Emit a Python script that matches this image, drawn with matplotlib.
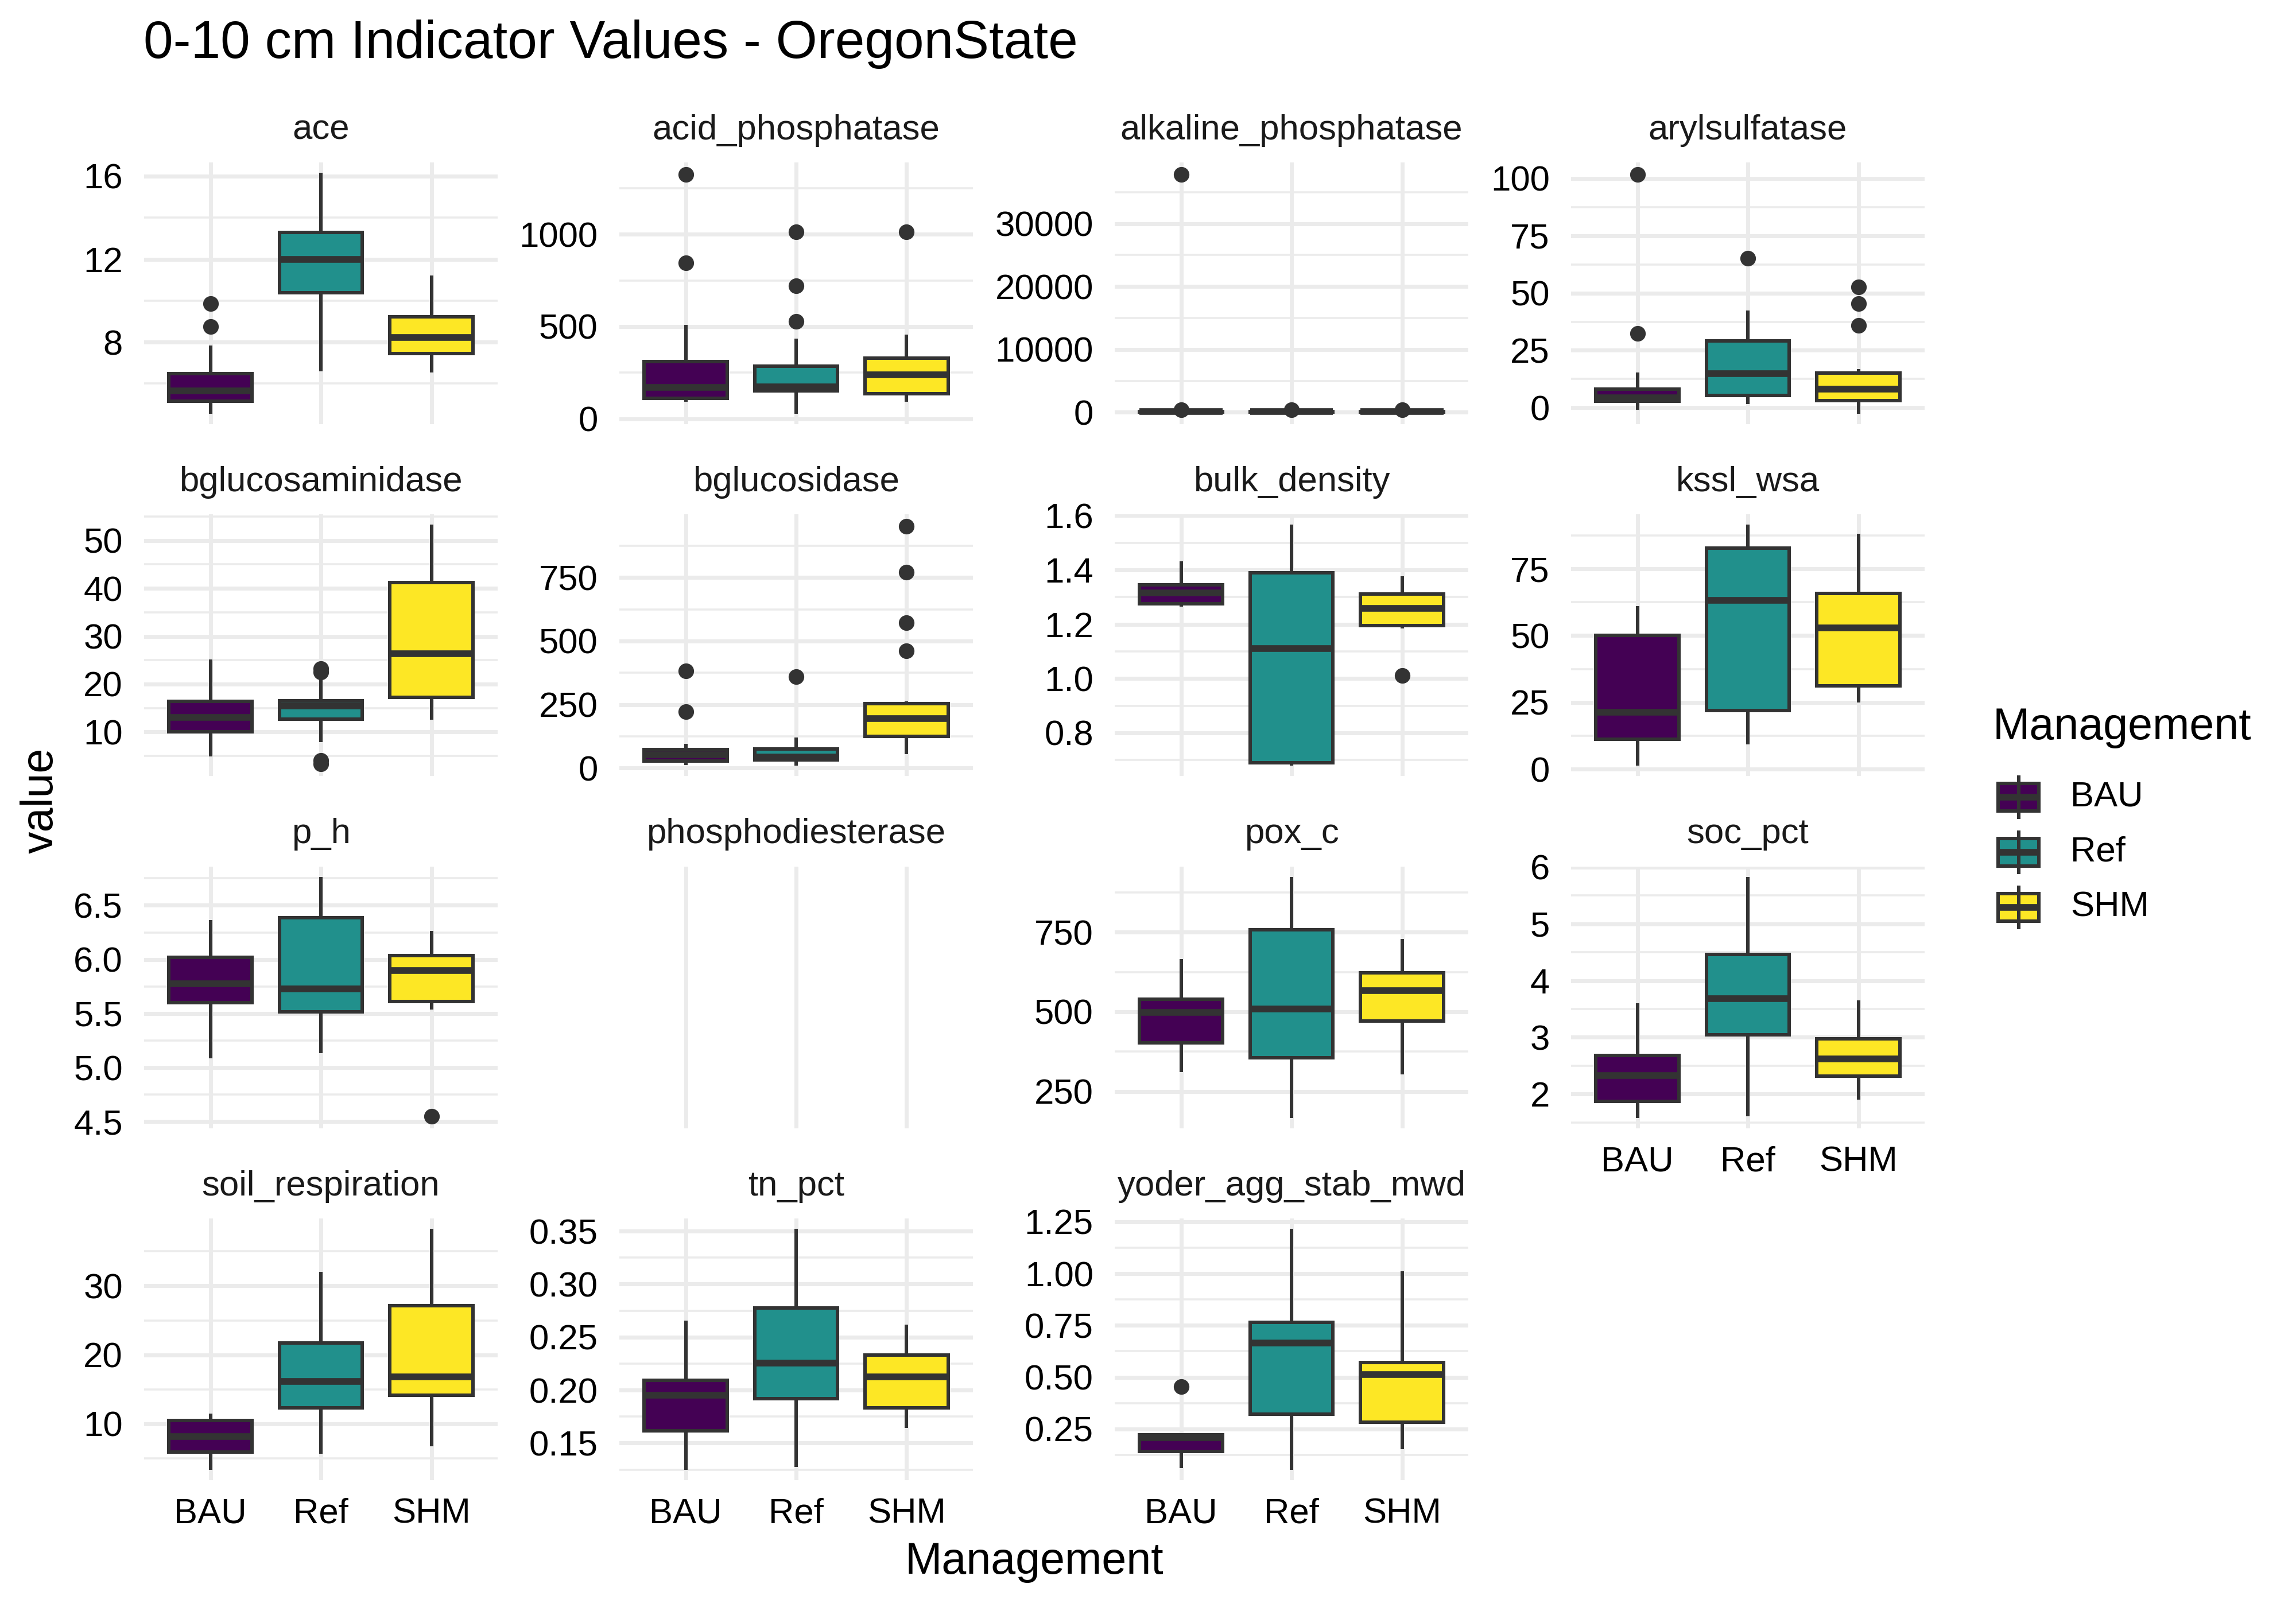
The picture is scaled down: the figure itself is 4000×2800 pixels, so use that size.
import matplotlib
matplotlib.use("Agg")
import matplotlib.pyplot as plt
from matplotlib.patches import Rectangle
from matplotlib.ticker import MultipleLocator, AutoMinorLocator, FuncFormatter

plt.rcParams['font.family'] = ['Liberation Sans', 'DejaVu Sans']

# Facets and groups
panels = ["ace", "acid_phosphatase", "alkaline_phosphatase", "arylsulfatase",
          "bglucosaminidase", "bglucosidase", "bulk_density", "kssl_wsa",
          "p_h", "phosphodiesterase", "pox_c", "soc_pct",
          "soil_respiration", "tn_pct", "yoder_agg_stab_mwd"]
groups = ["BAU", "Ref", "SHM"]
group_colors = ["#440154", "#21908C", "#FDE725"]

# Box statistics, order BAU, Ref, SHM
whisker_low = {
    "ace": [4.62, 6.67, 6.61],
    "acid_phosphatase": [100, 35, 100],
    "alkaline_phosphatase": [5, 10, 8],
    "arylsulfatase": [-0.2, 2.3, -2.0],
    "bglucosaminidase": [5.2, 8.3, 12.9],
    "bglucosidase": [18, 16, 61],
    "bulk_density": [1.27, 0.685, 1.19],
    "kssl_wsa": [1.9, 10.0, 25.7],
    "p_h": [5.10, 5.15, 5.55],
    "pox_c": [316, 171.5, 308.5],
    "soc_pct": [1.606, 1.64, 1.933],
    "soil_respiration": [3.57, 5.96, 6.98],
    "tn_pct": [0.1263, 0.1294, 0.1659],
    "yoder_agg_stab_mwd": [0.0687, 0.06, 0.1596],
}
q1 = {
    "ace": [5.16, 10.39, 7.46],
    "acid_phosphatase": [112, 152, 134],
    "alkaline_phosphatase": [40, 50, 45],
    "arylsulfatase": [2.9, 5.4, 3.2],
    "bglucosaminidase": [10.05, 12.74, 17.22],
    "bglucosidase": [27.6, 32, 124],
    "bulk_density": [1.276, 0.69, 1.195],
    "kssl_wsa": [11.3, 21.9, 31.2],
    "p_h": [5.60, 5.513, 5.61],
    "pox_c": [402, 354.9, 471],
    "soc_pct": [1.875, 3.05, 2.314],
    "soil_respiration": [5.96, 12.34, 14.17],
    "tn_pct": [0.1614, 0.1917, 0.1831],
    "yoder_agg_stab_mwd": [0.141, 0.3226, 0.2828],
}
median = {
    "ace": [5.66, 12.0, 8.23],
    "acid_phosphatase": [170, 172, 237],
    "alkaline_phosphatase": [80, 90, 85],
    "arylsulfatase": [4.3, 14.9, 8.1],
    "bglucosaminidase": [13.0, 15.5, 26.4],
    "bglucosidase": [53.6, 43, 195],
    "bulk_density": [1.316, 1.111, 1.259],
    "kssl_wsa": [21.2, 63.3, 52.9],
    "p_h": [5.775, 5.725, 5.90],
    "pox_c": [498.6, 509, 566],
    "soc_pct": [2.327, 3.678, 2.624],
    "soil_respiration": [8.17, 16.17, 16.8],
    "tn_pct": [0.195, 0.2255, 0.2124],
    "yoder_agg_stab_mwd": [0.2063, 0.666, 0.5114],
}
q3 = {
    "ace": [6.49, 13.30, 9.22],
    "acid_phosphatase": [310, 284, 329],
    "alkaline_phosphatase": [130, 140, 135],
    "arylsulfatase": [8.0, 29.0, 15.1],
    "bglucosaminidase": [16.37, 16.5, 41.25],
    "bglucosidase": [73, 75, 253],
    "bulk_density": [1.345, 1.39, 1.311],
    "kssl_wsa": [50.06, 82.7, 65.9],
    "p_h": [6.02, 6.387, 6.036],
    "pox_c": [539.7, 758.3, 622],
    "soc_pct": [2.686, 4.464, 2.979],
    "soil_respiration": [10.51, 21.74, 27.1],
    "tn_pct": [0.2094, 0.2775, 0.2332],
    "yoder_agg_stab_mwd": [0.2205, 0.764, 0.5695],
}
whisker_high = {
    "ace": [7.76, 16.09, 11.13],
    "acid_phosphatase": [499, 426, 447],
    "alkaline_phosphatase": [200, 220, 210],
    "arylsulfatase": [14.6, 41.6, 16.1],
    "bglucosaminidase": [24.75, 20.6, 53.0],
    "bglucosidase": [89, 113, 255],
    "bulk_density": [1.425, 1.561, 1.37],
    "kssl_wsa": [60.5, 91.0, 87.4],
    "p_h": [6.35, 6.748, 6.25],
    "pox_c": [660, 918.4, 723],
    "soc_pct": [3.573, 5.80, 3.618],
    "soil_respiration": [11.23, 31.78, 38.04],
    "tn_pct": [0.2637, 0.3507, 0.2601],
    "yoder_agg_stab_mwd": [0.2205, 1.209, 1.0036],
}
outliers = {
    "ace": [[9.85, 8.76], [], []],
    "acid_phosphatase": [[1326, 845], [1015, 722, 527], [1015]],
    "alkaline_phosphatase": [[37830, 350], [380], [360]],
    "arylsulfatase": [[32.3, 101.8], [65.2], [52.6, 45.5, 35.8]],
    "bglucosaminidase": [[], [23.2, 22.5, 4.0, 3.3], []],
    "bglucosidase": [[383, 222], [360], [952, 771, 572, 462]],
    "bulk_density": [[], [], [1.01]],
    "kssl_wsa": [[], [], []],
    "p_h": [[], [], [4.548]],
    "pox_c": [[], [], []],
    "soc_pct": [[], [], []],
    "soil_respiration": [[], [], []],
    "tn_pct": [[], [], []],
    "yoder_agg_stab_mwd": [[0.453], [], []],
}

# y break spacing per facet (styling)
major_step = {
    "ace": 4, "acid_phosphatase": 500, "alkaline_phosphatase": 10000,
    "arylsulfatase": 25, "bglucosaminidase": 10, "bglucosidase": 250,
    "bulk_density": 0.2, "kssl_wsa": 25, "p_h": 0.5, "pox_c": 250,
    "soc_pct": 1, "soil_respiration": 10, "tn_pct": 0.05,
    "yoder_agg_stab_mwd": 0.25,
}

W, H = 4000, 2800
col_x = [251, 1079, 1942, 2737]
row_y = [283, 896, 1510, 2123]
panel_w, panel_h = 616, 456
edge = "#333333"
grid_col = "#EBEBEB"


def fig_rect(x, y, w, h):
    return [x / W, 1 - (y + h) / H, w / W, h / H]


def n_decimals(step):
    for d in range(5):
        if abs(round(step, d) - step) < 1e-9:
            return d
    return 4


fig = plt.figure(figsize=(10, 7), dpi=400)

for i, name in enumerate(panels):
    r, c = divmod(i, 4)
    ax = fig.add_axes(fig_rect(col_x[c], row_y[r], panel_w, panel_h))
    ax.set_axisbelow(True)
    for s in ax.spines.values():
        s.set_visible(False)

    if name in whisker_low:
        stats = []
        for g in range(3):
            stats.append({
                "whislo": whisker_low[name][g], "q1": q1[name][g],
                "med": median[name][g], "q3": q3[name][g],
                "whishi": whisker_high[name][g], "fliers": outliers[name][g],
            })
        res = ax.bxp(stats, positions=[1, 2, 3], widths=0.75,
                     patch_artist=True, showcaps=False, manage_ticks=False,
                     boxprops=dict(edgecolor=edge, linewidth=1.08),
                     medianprops=dict(color=edge, linewidth=2.1,
                                      solid_capstyle="butt"),
                     whiskerprops=dict(color=edge, linewidth=1.08),
                     flierprops=dict(marker="o", markerfacecolor=edge,
                                     markeredgecolor="none", markersize=4.9))
        for patch, col in zip(res["boxes"], group_colors):
            patch.set_facecolor(col)

        vals = whisker_low[name] + whisker_high[name]
        for o in outliers[name]:
            vals = vals + o
        lo, hi = min(vals), max(vals)
        pad = 0.05 * (hi - lo)
        ax.set_ylim(lo - pad, hi + pad)

        step = major_step[name]
        d = n_decimals(step)
        ax.yaxis.set_major_locator(MultipleLocator(step))
        ax.yaxis.set_minor_locator(AutoMinorLocator(2))
        ax.yaxis.set_major_formatter(FuncFormatter(lambda v, p, d=d: f"{v:.{d}f}"))
        ax.grid(which="major", axis="y", color=grid_col, lw=1.26)
        ax.grid(which="minor", axis="y", color=grid_col, lw=0.63)
    else:
        ax.set_yticks([])

    ax.set_xlim(0.4, 3.6)
    ax.set_xticks([1, 2, 3])
    ax.set_xticklabels(groups)
    ax.tick_params(which="both", length=0, labelsize=11.1, labelcolor="black")
    ax.tick_params(axis="y", pad=6.7)
    ax.tick_params(axis="x", pad=5.5)
    show_x = (r == 3) or (name == "soc_pct")
    ax.tick_params(labelbottom=show_x)
    ax.grid(which="major", axis="x", color=grid_col, lw=1.26)

    # facet strip label
    fig.text((col_x[c] + panel_w / 2) / W, 1 - (row_y[r] - 56) / H, name,
             ha="center", va="center", fontsize=11.1, color="#1A1A1A")

# titles
fig.text(250 / W, 1 - 77 / H, "0-10 cm Indicator Values - OregonState",
         ha="left", va="center", fontsize=16.7, color="black")
fig.text(1802 / W, 1 - 2722 / H, "Management", ha="center", va="center",
         fontsize=13.9, color="black")
fig.text(71 / W, 1 - 1395 / H, "value", ha="center", va="center",
         rotation=90, fontsize=13.9, color="black")

# legend
lax = fig.add_axes([0, 0, 1, 1])
lax.set_xlim(0, W)
lax.set_ylim(H, 0)
lax.axis("off")
lax.text(3472, 1268, "Management", ha="left", va="center", fontsize=13.9,
         color="black")
key_y = [1389, 1485, 1581]
key_x0, key_w = 3481, 71
for g, col, ky in zip(groups, group_colors, key_y):
    kc = key_x0 + key_w / 2
    lax.plot([kc, kc], [ky - 38, ky + 38], color=edge, lw=1.08,
             solid_capstyle="butt")
    lax.add_patch(Rectangle((key_x0, ky - 23.6), key_w, 47.2, facecolor=col,
                            edgecolor=edge, lw=1.08))
    lax.plot([key_x0, key_x0 + key_w], [ky, ky], color=edge, lw=2.1,
             solid_capstyle="butt")
    lax.text(3607, ky, g, ha="left", va="center", fontsize=11.1,
             color="black")

fig.savefig("out.png", dpi=400, facecolor="white")
